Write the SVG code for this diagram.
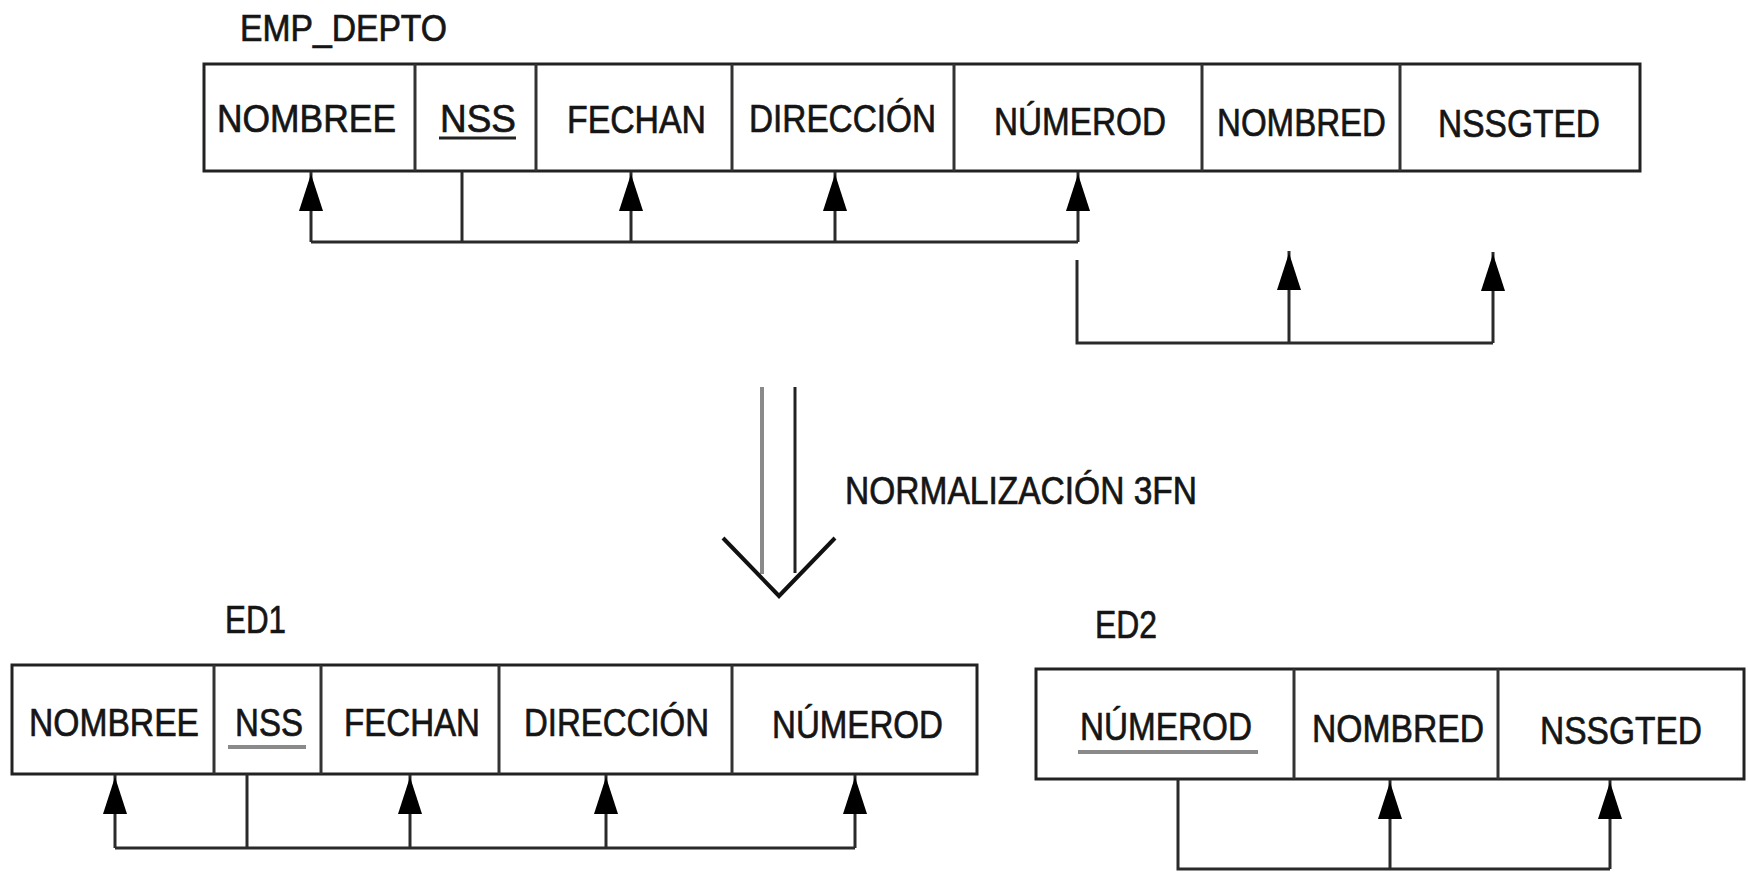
<svg xmlns="http://www.w3.org/2000/svg" width="1748" height="875" viewBox="0 0 1748 875">
<style>
  .cell { fill: #ffffff; stroke: #222222; stroke-width: 3; }
  .div { stroke: #333333; stroke-width: 3; fill: none; }
  .t { font-family: "Liberation Sans", Arial, sans-serif; font-size: 39px; fill: #151515; stroke: #151515; stroke-width: 0.7; }
  .lbl { font-family: "Liberation Sans", Arial, sans-serif; font-size: 37px; fill: #151515; stroke: #151515; stroke-width: 0.7; }
  .ul { stroke: #222222; stroke-width: 3; }
  .ulg { stroke: #8a8a8a; stroke-width: 4; }
  .con { stroke: #2a2a2a; stroke-width: 3; fill: none; }
  .arr { stroke: #2a2a2a; stroke-width: 3; fill: none; marker-end: url(#ah); }
</style>
<defs>
  <marker id="ah" markerUnits="userSpaceOnUse" viewBox="0 0 40 24" markerWidth="40" markerHeight="24" refX="39" refY="12" orient="auto">
    <path d="M0,0 L37,12 L0,24 Z" fill="#000000"/>
  </marker>
</defs>
<rect width="1748" height="875" fill="#ffffff"/>

<g id="emp_depto">
  <text class="lbl" x="240" y="41" textLength="207" lengthAdjust="spacingAndGlyphs">EMP_DEPTO</text>
  <rect class="cell" x="204" y="64" width="1436" height="107"/>
  <line class="div" x1="415" y1="64" x2="415" y2="171"/>
  <line class="div" x1="536" y1="64" x2="536" y2="171"/>
  <line class="div" x1="732" y1="64" x2="732" y2="171"/>
  <line class="div" x1="954" y1="64" x2="954" y2="171"/>
  <line class="div" x1="1202" y1="64" x2="1202" y2="171"/>
  <line class="div" x1="1400" y1="64" x2="1400" y2="171"/>
  <text class="t" x="217" y="132" textLength="179" lengthAdjust="spacingAndGlyphs">NOMBREE</text>
  <text class="t" x="440" y="132" textLength="76" lengthAdjust="spacingAndGlyphs">NSS</text>
  <line class="ul" x1="439" y1="138" x2="516" y2="138"/>
  <text class="t" x="567" y="133" textLength="139" lengthAdjust="spacingAndGlyphs">FECHAN</text>
  <text class="t" x="749" y="132" textLength="187" lengthAdjust="spacingAndGlyphs">DIRECCIÓN</text>
  <text class="t" x="994" y="135" textLength="172" lengthAdjust="spacingAndGlyphs">NÚMEROD</text>
  <text class="t" x="1217" y="136" textLength="169" lengthAdjust="spacingAndGlyphs">NOMBRED</text>
  <text class="t" x="1438" y="137" textLength="162" lengthAdjust="spacingAndGlyphs">NSSGTED</text>
</g>

<g id="normalizacion">
  <line x1="762" y1="387" x2="762" y2="574" stroke="#8a8a8a" stroke-width="4"/>
  <line x1="795" y1="387" x2="795" y2="573" stroke="#222222" stroke-width="3"/>
  <polyline points="723,538 779,596 835,538" fill="none" stroke="#111111" stroke-width="4"/>
  <text class="t" x="845" y="504" textLength="352" lengthAdjust="spacingAndGlyphs">NORMALIZACIÓN 3FN</text>
</g>

<g id="ed1">
  <text class="t" x="225" y="633" textLength="61" lengthAdjust="spacingAndGlyphs">ED1</text>
  <rect class="cell" x="12" y="665" width="965" height="109"/>
  <line class="div" x1="214" y1="665" x2="214" y2="774"/>
  <line class="div" x1="321" y1="665" x2="321" y2="774"/>
  <line class="div" x1="499" y1="665" x2="499" y2="774"/>
  <line class="div" x1="732" y1="665" x2="732" y2="774"/>
  <text class="t" x="29" y="736" textLength="170" lengthAdjust="spacingAndGlyphs">NOMBREE</text>
  <text class="t" x="235" y="736" textLength="68" lengthAdjust="spacingAndGlyphs">NSS</text>
  <line class="ulg" x1="228" y1="747" x2="306" y2="747"/>
  <text class="t" x="344" y="736" textLength="136" lengthAdjust="spacingAndGlyphs">FECHAN</text>
  <text class="t" x="524" y="736" textLength="185" lengthAdjust="spacingAndGlyphs">DIRECCIÓN</text>
  <text class="t" x="772" y="738" textLength="171" lengthAdjust="spacingAndGlyphs">NÚMEROD</text>
</g>

<g id="ed2">
  <text class="t" x="1095" y="638" textLength="62" lengthAdjust="spacingAndGlyphs">ED2</text>
  <rect class="cell" x="1036" y="669" width="708" height="110"/>
  <line class="div" x1="1294" y1="669" x2="1294" y2="779"/>
  <line class="div" x1="1498" y1="669" x2="1498" y2="779"/>
  <text class="t" x="1080" y="740" textLength="172" lengthAdjust="spacingAndGlyphs">NÚMEROD</text>
  <line class="ulg" x1="1078" y1="752" x2="1258" y2="752"/>
  <text class="t" x="1312" y="742" textLength="172" lengthAdjust="spacingAndGlyphs">NOMBRED</text>
  <text class="t" x="1540" y="744" textLength="162" lengthAdjust="spacingAndGlyphs">NSSGTED</text>
</g>

<g id="connectors">
  <polyline class="con" points="311,242 1078,242"/>
  <line class="con" x1="462" y1="171" x2="462" y2="242"/>
  <line class="arr" x1="311" y1="242" x2="311" y2="172"/>
  <line class="arr" x1="631" y1="242" x2="631" y2="172"/>
  <line class="arr" x1="835" y1="242" x2="835" y2="172"/>
  <line class="arr" x1="1078" y1="242" x2="1078" y2="172"/>
  <polyline class="con" points="1077,260 1077,343 1493,343"/>
  <line class="arr" x1="1289" y1="343" x2="1289" y2="251"/>
  <line class="arr" x1="1493" y1="343" x2="1493" y2="252"/>
  <polyline class="con" points="115,848 855,848"/>
  <line class="con" x1="247" y1="774" x2="247" y2="848"/>
  <line class="arr" x1="115" y1="848" x2="115" y2="775"/>
  <line class="arr" x1="410" y1="848" x2="410" y2="775"/>
  <line class="arr" x1="606" y1="848" x2="606" y2="775"/>
  <line class="arr" x1="855" y1="848" x2="855" y2="775"/>
  <polyline class="con" points="1178,779 1178,869 1610,869"/>
  <line class="arr" x1="1390" y1="869" x2="1390" y2="780"/>
  <line class="arr" x1="1610" y1="869" x2="1610" y2="780"/>
</g>
</svg>
